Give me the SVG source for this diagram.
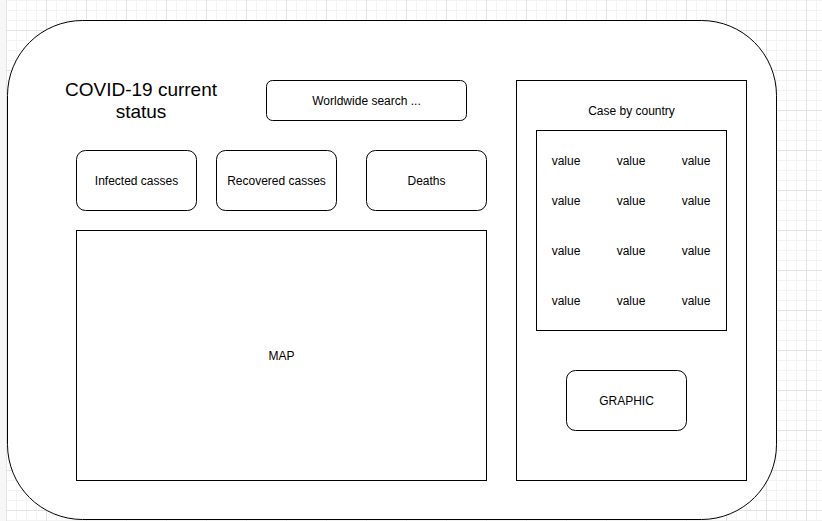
<svg xmlns="http://www.w3.org/2000/svg" width="822" height="521" viewBox="0 0 822 521">
<style>
.box{fill:#ffffff;stroke:#000000;stroke-width:1}
.t{font-family:"Liberation Sans",Arial,sans-serif;font-size:12px;fill:#000000;text-anchor:middle;dominant-baseline:central}
.title{font-family:"Liberation Sans",Arial,sans-serif;font-size:19px;fill:#000000;text-anchor:middle}
</style>
<defs>
<pattern id="grid" patternUnits="userSpaceOnUse" x="6" y="30" width="40" height="40">
<rect x="0" y="10" width="40" height="1" fill="#f3f3f3"/>
<rect x="0" y="20" width="40" height="1" fill="#f3f3f3"/>
<rect x="0" y="30" width="40" height="1" fill="#f3f3f3"/>
<rect x="10" y="0" width="1" height="40" fill="#f3f3f3"/>
<rect x="20" y="0" width="1" height="40" fill="#f3f3f3"/>
<rect x="30" y="0" width="1" height="40" fill="#f3f3f3"/>
<rect x="0" y="0" width="40" height="1" fill="#e4e4e4"/>
<rect x="0" y="0" width="1" height="40" fill="#e4e4e4"/>
</pattern>
</defs>
<rect x="0" y="0" width="822" height="521" fill="#ffffff"/>
<rect x="6" y="0" width="816" height="521" fill="url(#grid)"/>
<rect x="0" y="0" width="6" height="521" fill="#f7f7f7"/>
<g id="frame">
<rect class="box" x="7.5" y="20.5" width="769" height="499" rx="75" ry="75"/>
</g>
<g id="title">
<text class="title" x="141" y="96">COVID-19 current</text>
<text class="title" x="141" y="118">status</text>
</g>
<g id="search">
<rect class="box" x="266.5" y="80.5" width="200" height="40" rx="6" ry="6"/>
<text class="t" x="366.5" y="100.5">Worldwide search ...</text>
</g>
<g id="infected">
<rect class="box" x="76.5" y="150.5" width="120" height="60" rx="9" ry="9"/>
<text class="t" x="136.5" y="180.5">Infected casses</text>
</g>
<g id="recovered">
<rect class="box" x="216.5" y="150.5" width="120" height="60" rx="9" ry="9"/>
<text class="t" x="276.5" y="180.5">Recovered casses</text>
</g>
<g id="deaths">
<rect class="box" x="366.5" y="150.5" width="120" height="60" rx="9" ry="9"/>
<text class="t" x="426.5" y="180.5">Deaths</text>
</g>
<g id="map">
<rect class="box" x="76.5" y="230.5" width="410" height="250"/>
<text class="t" x="281.5" y="355.5">MAP</text>
</g>
<g id="country-panel">
<rect class="box" x="516.5" y="80.5" width="230" height="400"/>
<text class="t" x="631.5" y="110.5">Case by country</text>
</g>
<g id="values">
<rect class="box" x="536.5" y="130.5" width="190" height="200"/>
<text class="t" x="566" y="160.5">value</text>
<text class="t" x="631" y="160.5">value</text>
<text class="t" x="696" y="160.5">value</text>
<text class="t" x="566" y="200.5">value</text>
<text class="t" x="631" y="200.5">value</text>
<text class="t" x="696" y="200.5">value</text>
<text class="t" x="566" y="250.5">value</text>
<text class="t" x="631" y="250.5">value</text>
<text class="t" x="696" y="250.5">value</text>
<text class="t" x="566" y="300.5">value</text>
<text class="t" x="631" y="300.5">value</text>
<text class="t" x="696" y="300.5">value</text>
</g>
<g id="graphic">
<rect class="box" x="566.5" y="370.5" width="120" height="60" rx="9" ry="9"/>
<text class="t" x="626.5" y="400.5">GRAPHIC</text>
</g>
<g id="connectors"></g>
</svg>
